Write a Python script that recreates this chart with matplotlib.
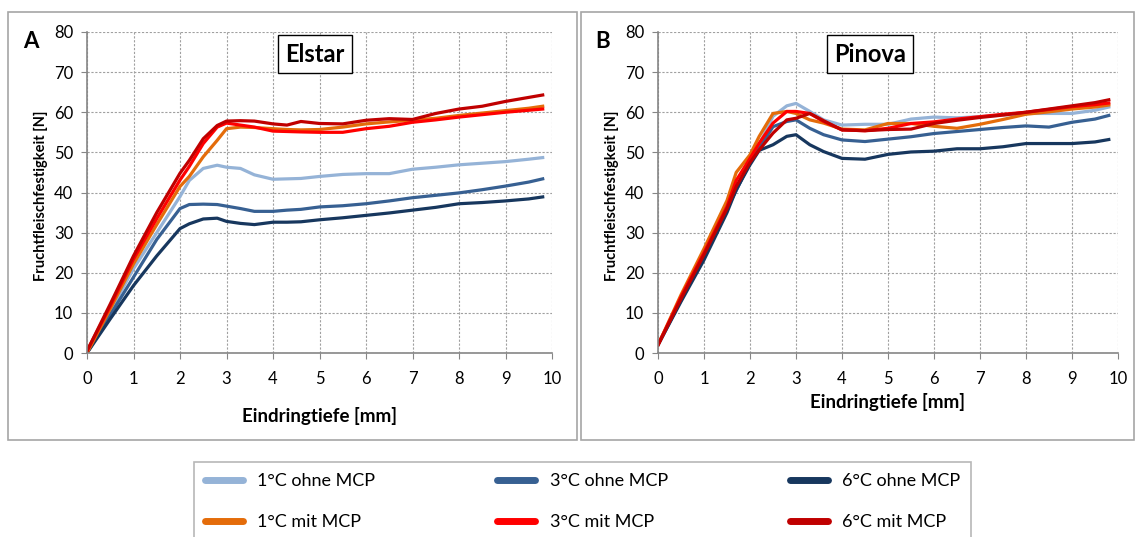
import numpy as np
import matplotlib.pyplot as plt
from matplotlib.patches import Rectangle
from matplotlib.lines import Line2D

plt.rcParams['font.family'] = ['Lato', 'DejaVu Sans']

# series labels and colours
labels = ['1°C ohne MCP', '3°C ohne MCP', '6°C ohne MCP',
          '1°C mit MCP', '3°C mit MCP', '6°C mit MCP']
colors = ['#95B3D7', '#376092', '#17375E', '#E46C0A', '#FF0000', '#C00000']

# Elstar (panel A)
x_a = [0, 0.5, 1, 1.5, 2, 2.2, 2.5, 2.8, 3, 3.3, 3.6, 4, 4.3, 4.6, 5, 5.5, 6, 6.5, 7, 7.5, 8, 8.5, 9, 9.5, 9.8]
elstar_1_ohne = [0, 10.5, 21, 30, 39, 43, 46, 46.8, 46.3, 46, 44.4, 43.3, 43.4, 43.5, 44, 44.5, 44.7, 44.7, 45.8, 46.3, 46.9, 47.3, 47.7, 48.3, 48.7]
elstar_3_ohne = [0, 9.5, 18.9, 28.3, 36, 37, 37.1, 37, 36.6, 36, 35.3, 35.3, 35.6, 35.8, 36.4, 36.7, 37.2, 37.9, 38.7, 39.3, 39.9, 40.7, 41.6, 42.6, 43.4]
elstar_6_ohne = [0, 8.5, 16.8, 24.2, 31, 32.2, 33.4, 33.6, 32.8, 32.3, 32, 32.6, 32.6, 32.7, 33.2, 33.7, 34.3, 34.9, 35.6, 36.3, 37.2, 37.5, 37.9, 38.4, 38.9]
elstar_1_mit = [0, 11, 22.2, 32, 41.5, 44, 48.9, 53, 55.9, 56.3, 56.2, 55.9, 55.7, 55.6, 55.7, 56.3, 57.1, 57.6, 58, 58.5, 59.2, 59.8, 60.4, 61, 61.5]
elstar_3_mit = [0.5, 11.7, 23.4, 33.5, 43.1, 46.5, 52.2, 56.3, 57.3, 56.8, 56.3, 55.3, 55.2, 55.1, 55, 55, 55.9, 56.5, 57.5, 58.1, 58.8, 59.4, 60, 60.5, 60.8]
elstar_6_mit = [0.5, 12.2, 24.2, 35, 44.8, 48, 53.4, 56.7, 57.8, 57.9, 57.8, 57.1, 56.8, 57.7, 57.2, 57.1, 58, 58.4, 58.2, 59.7, 60.8, 61.5, 62.7, 63.7, 64.3]

# Pinova (panel B)
x_b = [0, 0.5, 1, 1.5, 1.7, 2, 2.2, 2.5, 2.8, 3, 3.3, 3.6, 4, 4.5, 5, 5.5, 6, 6.5, 7, 7.5, 8, 8.5, 9, 9.5, 9.8]
pinova_1_ohne = [2, 13.5, 24.5, 36, 40.5, 47.5, 52, 59, 61.6, 62.2, 60.2, 58.1, 56.8, 57, 57, 58.3, 58.8, 58.6, 58.9, 59.3, 59.7, 59.7, 59.7, 60.5, 61.3]
pinova_3_ohne = [2, 13.2, 24, 36, 40.5, 47.5, 51, 56.4, 57.7, 58.1, 56, 54.4, 53.1, 52.7, 53.3, 53.9, 54.7, 55.2, 55.7, 56.2, 56.6, 56.3, 57.5, 58.3, 59.2]
pinova_6_ohne = [2, 12.8, 23.2, 35, 40.7, 46.9, 50.5, 51.9, 54, 54.4, 51.9, 50.2, 48.5, 48.3, 49.5, 50.1, 50.3, 50.9, 50.9, 51.4, 52.2, 52.2, 52.2, 52.6, 53.2]
pinova_1_mit = [2, 14.5, 26, 38, 45, 49.4, 54, 59.7, 60.2, 59.7, 58.1, 57.3, 55.8, 55.6, 57.2, 57.2, 56.5, 56, 57, 58.2, 59.5, 60.1, 60.8, 61.3, 61.8]
pinova_3_mit = [2, 14, 25, 36.5, 43, 48.5, 52.3, 57.3, 60.2, 60.2, 59.7, 57.7, 55.6, 55.4, 56, 57.2, 57.6, 58.3, 58.9, 59.5, 60, 60.7, 61.4, 61.9, 62.3]
pinova_6_mit = [2, 13.5, 24.5, 36, 41.5, 47.5, 50.6, 54.8, 58.1, 58.5, 59.7, 57.9, 55.6, 55.4, 55.7, 55.8, 57.2, 58, 58.7, 59.3, 60, 60.8, 61.6, 62.4, 63.1]

W, H = 1135, 537
fig = plt.figure(figsize=(W / 100, H / 100), dpi=100)


def px(l, t, r, b):
    return [l / W, 1 - b / H, (r - l) / W, (b - t) / H]


# panel frames
for l, t, r, b in [(8, 12, 577, 440), (581, 12, 1134, 440)]:
    fig.patches.append(Rectangle((l / W, 1 - b / H), (r - l) / W, (b - t) / H,
                                 transform=fig.transFigure, fill=False,
                                 edgecolor='#A6A6A6', linewidth=1.2))

panels = [
    (px(87, 32, 552, 353), x_a,
     [elstar_1_ohne, elstar_3_ohne, elstar_6_ohne, elstar_1_mit, elstar_3_mit, elstar_6_mit],
     'Elstar', 'A', 4.9, -0.196),
    (px(658, 32, 1118, 353), x_b,
     [pinova_1_ohne, pinova_3_ohne, pinova_6_ohne, pinova_1_mit, pinova_3_mit, pinova_6_mit],
     'Pinova', 'B', 4.6, -0.153),
]

for rect, xs, series, name, letter, tx, xl_y in panels:
    ax = fig.add_axes(rect)
    for ys, c in zip(series, colors):
        ax.plot(xs, ys, color=c, linewidth=2.3)
    ax.set_xlim(0, 10)
    ax.set_ylim(0, 80)
    ax.set_xticks(range(0, 11))
    ax.set_yticks(range(0, 81, 10))
    ax.grid(True, color='#A0A0A0', linestyle=(0, (2, 1.5)), linewidth=0.8)
    for s in ['top', 'right']:
        ax.spines[s].set_visible(False)
    for s in ['left', 'bottom']:
        ax.spines[s].set_color('#868686')
        ax.spines[s].set_linewidth(1.2)
    ax.tick_params(direction='out', length=4, color='#868686', labelsize=12)
    ax.tick_params(axis='x', pad=9)
    ax.tick_params(axis='y', pad=6)
    ax.set_xlabel('Eindringtiefe [mm]', fontsize=13.5, fontweight='bold', va='center')
    ax.xaxis.set_label_coords(0.5, xl_y)
    ax.set_ylabel('Fruchtfleischfestigkeit [N]', fontsize=10.5, fontweight='bold', va='center')
    ax.yaxis.set_label_coords(-0.1, 0.49)
    ax.text(tx, 74.5, name, fontsize=17, fontweight='bold', ha='center', va='center',
            bbox=dict(boxstyle='square,pad=0.3', facecolor='white', edgecolor='black', linewidth=1))
    ax.text(-0.12, 0.97, letter, transform=ax.transAxes, fontsize=16, fontweight='bold',
            ha='center', va='center')

handles = [Line2D([], [], color=c, linewidth=5, solid_capstyle='round') for c in colors]
order = [0, 3, 1, 4, 2, 5]
leg = fig.legend([handles[i] for i in order], [labels[i] for i in order],
                 ncol=3, loc='upper left',
                 bbox_to_anchor=(185 / W, 1 - 453 / H, 795 / W, 0.0), mode='expand',
                 fontsize=13, frameon=True, fancybox=False, handlelength=2.1,
                 labelspacing=1.4, borderpad=0.6, columnspacing=2)
leg.get_frame().set_edgecolor('#A6A6A6')
leg.get_frame().set_linewidth(1.2)

fig.savefig('out.png', dpi=100)
